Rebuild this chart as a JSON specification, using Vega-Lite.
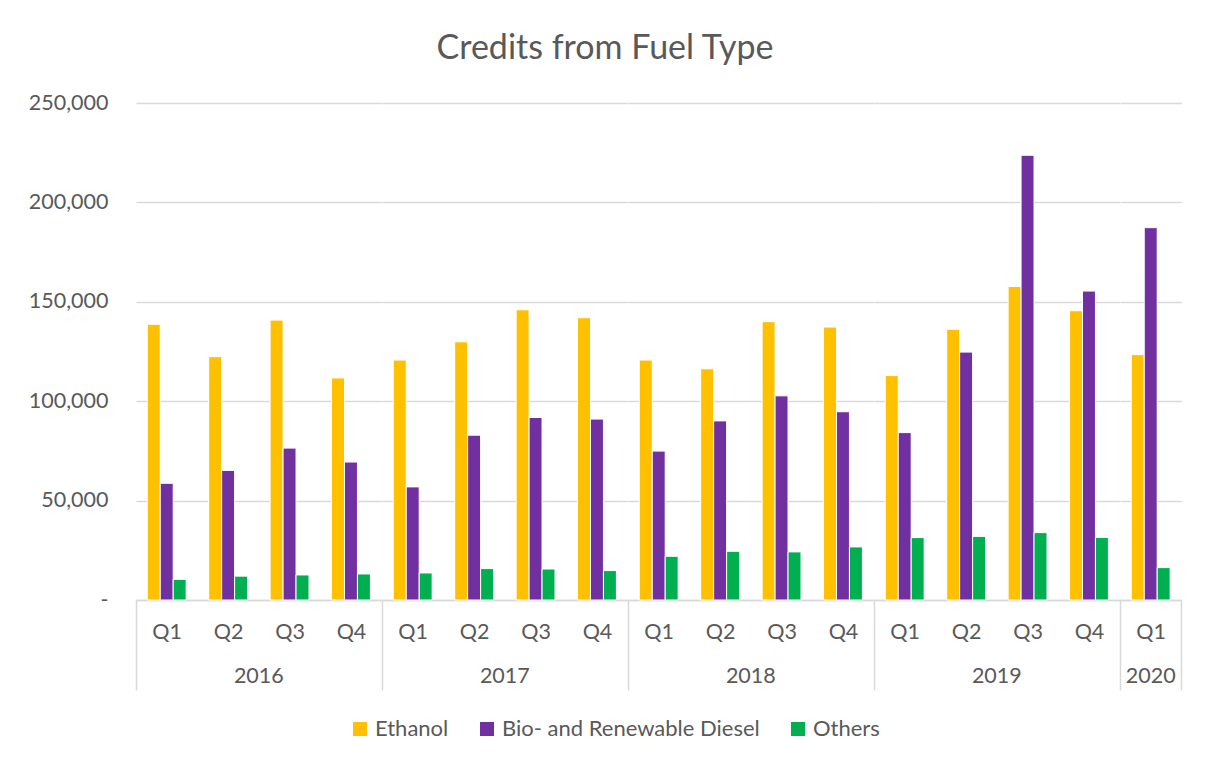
{
  "$schema": "https://vega.github.io/schema/vega-lite/v6.json",
  "padding": {"left": 28, "top": 32, "right": 10, "bottom": 5},
  "background": "white",
  "title": {"text": "Credits from Fuel Type", "fontSize": 34, "font": "Lato", "fontWeight": "normal", "color": "#595959", "anchor": "middle", "offset": 26},
  "data": {"values": [
    {"year": "2016", "quarter": "Q1", "series": "Ethanol", "value": 138700},
    {"year": "2016", "quarter": "Q1", "series": "Bio- and Renewable Diesel", "value": 58700},
    {"year": "2016", "quarter": "Q1", "series": "Others", "value": 10400},
    {"year": "2016", "quarter": "Q2", "series": "Ethanol", "value": 122400},
    {"year": "2016", "quarter": "Q2", "series": "Bio- and Renewable Diesel", "value": 65200},
    {"year": "2016", "quarter": "Q2", "series": "Others", "value": 12000},
    {"year": "2016", "quarter": "Q3", "series": "Ethanol", "value": 140800},
    {"year": "2016", "quarter": "Q3", "series": "Bio- and Renewable Diesel", "value": 76400},
    {"year": "2016", "quarter": "Q3", "series": "Others", "value": 12600},
    {"year": "2016", "quarter": "Q4", "series": "Ethanol", "value": 111700},
    {"year": "2016", "quarter": "Q4", "series": "Bio- and Renewable Diesel", "value": 69400},
    {"year": "2016", "quarter": "Q4", "series": "Others", "value": 13100},
    {"year": "2017", "quarter": "Q1", "series": "Ethanol", "value": 120700},
    {"year": "2017", "quarter": "Q1", "series": "Bio- and Renewable Diesel", "value": 56900},
    {"year": "2017", "quarter": "Q1", "series": "Others", "value": 13600},
    {"year": "2017", "quarter": "Q2", "series": "Ethanol", "value": 129900},
    {"year": "2017", "quarter": "Q2", "series": "Bio- and Renewable Diesel", "value": 82900},
    {"year": "2017", "quarter": "Q2", "series": "Others", "value": 15800},
    {"year": "2017", "quarter": "Q3", "series": "Ethanol", "value": 146000},
    {"year": "2017", "quarter": "Q3", "series": "Bio- and Renewable Diesel", "value": 91800},
    {"year": "2017", "quarter": "Q3", "series": "Others", "value": 15600},
    {"year": "2017", "quarter": "Q4", "series": "Ethanol", "value": 142000},
    {"year": "2017", "quarter": "Q4", "series": "Bio- and Renewable Diesel", "value": 91000},
    {"year": "2017", "quarter": "Q4", "series": "Others", "value": 14800},
    {"year": "2018", "quarter": "Q1", "series": "Ethanol", "value": 120700},
    {"year": "2018", "quarter": "Q1", "series": "Bio- and Renewable Diesel", "value": 74900},
    {"year": "2018", "quarter": "Q1", "series": "Others", "value": 22000},
    {"year": "2018", "quarter": "Q2", "series": "Ethanol", "value": 116300},
    {"year": "2018", "quarter": "Q2", "series": "Bio- and Renewable Diesel", "value": 90100},
    {"year": "2018", "quarter": "Q2", "series": "Others", "value": 24500},
    {"year": "2018", "quarter": "Q3", "series": "Ethanol", "value": 140000},
    {"year": "2018", "quarter": "Q3", "series": "Bio- and Renewable Diesel", "value": 102700},
    {"year": "2018", "quarter": "Q3", "series": "Others", "value": 24200},
    {"year": "2018", "quarter": "Q4", "series": "Ethanol", "value": 137300},
    {"year": "2018", "quarter": "Q4", "series": "Bio- and Renewable Diesel", "value": 94700},
    {"year": "2018", "quarter": "Q4", "series": "Others", "value": 26700},
    {"year": "2019", "quarter": "Q1", "series": "Ethanol", "value": 112900},
    {"year": "2019", "quarter": "Q1", "series": "Bio- and Renewable Diesel", "value": 84200},
    {"year": "2019", "quarter": "Q1", "series": "Others", "value": 31400},
    {"year": "2019", "quarter": "Q2", "series": "Ethanol", "value": 136200},
    {"year": "2019", "quarter": "Q2", "series": "Bio- and Renewable Diesel", "value": 124700},
    {"year": "2019", "quarter": "Q2", "series": "Others", "value": 32000},
    {"year": "2019", "quarter": "Q3", "series": "Ethanol", "value": 157700},
    {"year": "2019", "quarter": "Q3", "series": "Bio- and Renewable Diesel", "value": 223700},
    {"year": "2019", "quarter": "Q3", "series": "Others", "value": 33900},
    {"year": "2019", "quarter": "Q4", "series": "Ethanol", "value": 145500},
    {"year": "2019", "quarter": "Q4", "series": "Bio- and Renewable Diesel", "value": 155400},
    {"year": "2019", "quarter": "Q4", "series": "Others", "value": 31500},
    {"year": "2020", "quarter": "Q1", "series": "Ethanol", "value": 123400},
    {"year": "2020", "quarter": "Q1", "series": "Bio- and Renewable Diesel", "value": 187300},
    {"year": "2020", "quarter": "Q1", "series": "Others", "value": 16300}
  ]},
  "facet": {
    "column": {
      "field": "year", "type": "ordinal",
      "header": {"labelOrient": "bottom", "title": null, "labelFontSize": 21.5, "labelFont": "Lato", "labelColor": "#595959", "labelPadding": 66}
    }
  },
  "spacing": 0,
  "bounds": "flush",
  "resolve": {"scale": {"x": "independent", "xOffset": "independent"}},
  "spec": {
    "width": {"step": 61.42, "for": "position"},
    "height": 497,
    "mark": {"type": "bar", "stroke": "white", "strokeWidth": 1},
    "encoding": {
      "x": {
        "field": "quarter", "type": "nominal",
        "scale": {"paddingInner": 0, "paddingOuter": 0},
        "axis": {
          "title": null, "labelAngle": 0, "labelFontSize": 21.5, "labelFont": "Lato", "labelColor": "#595959",
          "labelPadding": -69,
          "domainColor": "#D9D9D9", "domainWidth": 1.5,
          "tickBand": "extent", "tickSize": 90, "tickWidth": 1.5,
          "tickColor": {"condition": {"test": "datum.extra || (datum.value === 'Q1' && length(domain('child_x')) == 1)", "value": "#D9D9D9"}, "value": "transparent"}
        }
      },
      "xOffset": {"field": "series", "type": "nominal", "sort": ["Ethanol", "Bio- and Renewable Diesel", "Others"], "scale": {"paddingInner": 0, "paddingOuter": 0.87}},
      "y": {
        "field": "value", "type": "quantitative",
        "scale": {"domain": [0, 250000], "nice": false},
        "axis": {
          "title": null, "values": [0, 50000, 100000, 150000, 200000, 250000],
          "labelExpr": "datum.value == 0 ? '-\u00a0\u00a0\u00a0' : format(datum.value, ',')",
          "domain": false, "ticks": false, "gridColor": "#D9D9D9", "gridWidth": 1.5,
          "labelPadding": 28, "labelFontSize": 21.5, "labelFont": "Lato", "labelColor": "#595959"
        }
      },
      "color": {
        "field": "series", "type": "nominal",
        "sort": ["Ethanol", "Bio- and Renewable Diesel", "Others"],
        "scale": {"domain": ["Ethanol", "Bio- and Renewable Diesel", "Others"], "range": ["#FFC000", "#7030A0", "#00B050"]},
        "legend": {
          "orient": "none", "legendX": 213, "legendY": 615, "direction": "horizontal", "title": null,
          "symbolType": "square", "symbolSize": 196, "symbolStrokeWidth": 0, "labelFontSize": 22, "labelFont": "Lato",
          "labelColor": "#595959", "columnPadding": 27, "labelLimit": 400, "padding": 0, "labelOffset": 4
        }
      }
    }
  },
  "config": {"view": {"stroke": null}, "font": "Lato"}
}
